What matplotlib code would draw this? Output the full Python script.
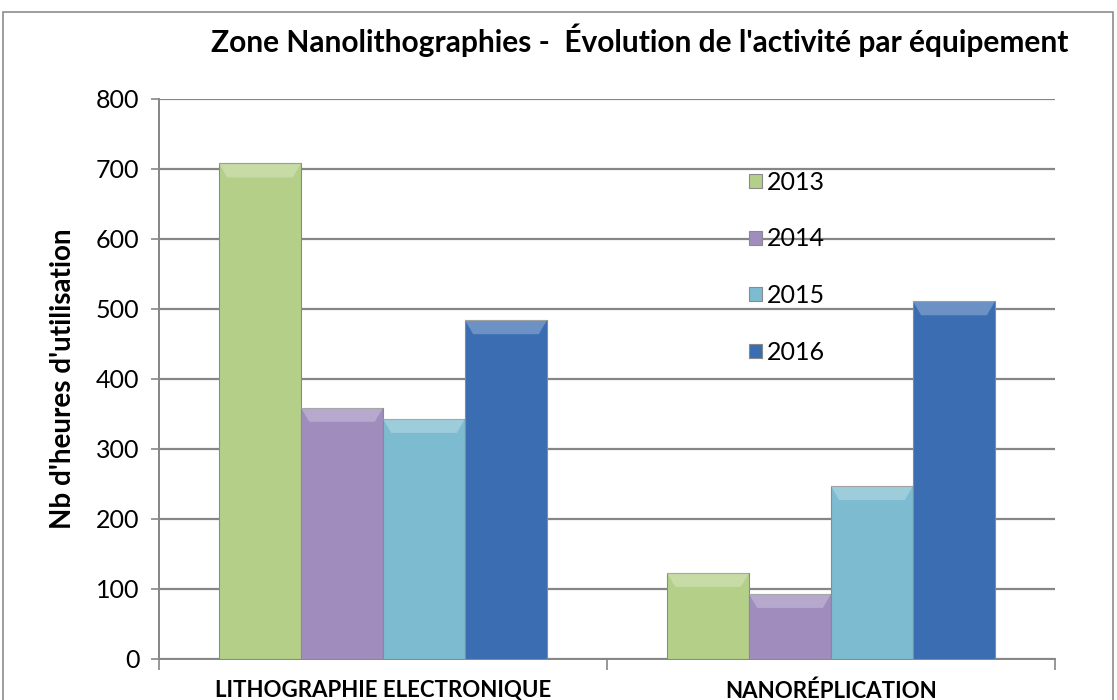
import numpy as np
import matplotlib
matplotlib.use('Agg')
import matplotlib.pyplot as plt
from matplotlib.patches import Rectangle

# data
categories = ['LITHOGRAPHIE ELECTRONIQUE', 'NANORÉPLICATION']
years = ['2013', '2014', '2015', '2016']
hours_2013 = [708, 123]
hours_2014 = [359, 93]
hours_2015 = [343, 247]
hours_2016 = [484, 511]
series = [hours_2013, hours_2014, hours_2015, hours_2016]
colors = ['#B4CF88', '#A08DBE', '#7DBBD0', '#3A6DB2']

plt.rcParams['font.family'] = ['Lato', 'DejaVu Sans']

fig = plt.figure(figsize=(11.17, 7), dpi=100)
ax = fig.add_axes([159 / 1117, 41 / 700, (1055 - 159) / 1117, (659 - 99) / 700])

# outer chart border (cut at the bottom like the original)
fig.patches.append(Rectangle((3 / 1117, -0.1), 1110 / 1117, 1.1 - 12 / 700,
                             transform=fig.transFigure, fill=False,
                             edgecolor='#8c8c8c', linewidth=1.2))

x = np.arange(len(categories))
w = 0.183
offsets = (np.arange(4) - 1.5) * w

for i, (vals, col) in enumerate(zip(series, colors)):
    bars = ax.bar(x + offsets[i], vals, width=w, color=col, edgecolor='#8a8a8a',
                  linewidth=0.8, label=years[i], zorder=3)
    for b in bars:
        # lighter band along the top to imitate the bevel look
        bx, bw, bh = b.get_x(), b.get_width(), b.get_height()
        top = min(20, bh * 0.25)
        ax.fill([bx, bx + bw, bx + bw * 0.9, bx + bw * 0.1],
                [bh, bh, bh - top, bh - top],
                color='white', alpha=0.25, zorder=4, linewidth=0)

ax.set_xlim(-0.5, 1.5)
ax.set_ylim(0, 800)
ax.set_yticks(range(0, 801, 100))
ax.tick_params(axis='y', labelsize=18, length=6, color='#868686', width=1.2, pad=8)
ax.yaxis.grid(True, color='#868686', linewidth=1.6, zorder=0)
ax.set_axisbelow(True)

ax.set_xticks([-0.5, 0.5, 1.5])
ax.set_xticklabels([])
ax.tick_params(axis='x', length=8, color='#868686', width=1.2)
for xi, cat in zip(x, categories):
    ax.text(xi, -55, cat, ha='center', va='baseline', fontsize=16, fontweight='bold',
            clip_on=False)

for s in ['top', 'right']:
    ax.spines[s].set_visible(False)
for s in ['left', 'bottom']:
    ax.spines[s].set_color('#868686')
    ax.spines[s].set_linewidth(1.4)

ax.set_ylabel("Nb d'heures d'utilisation", fontsize=20, fontweight='bold', labelpad=14)

fig.text(640 / 1117, 1 - 40 / 700,
         "Zone Nanolithographies -  Évolution de l'activité par équipement",
         ha='center', va='center', fontsize=21.5, fontweight='bold')

ax.legend(loc='upper left', bbox_to_anchor=((749 - 159) / 896, (659 - 171) / 560),
          frameon=False, fontsize=18, handlelength=0.5, handleheight=0.5,
          handletextpad=0.2, labelspacing=1.34, borderaxespad=0, borderpad=0)

fig.savefig('out.png', dpi=100)
